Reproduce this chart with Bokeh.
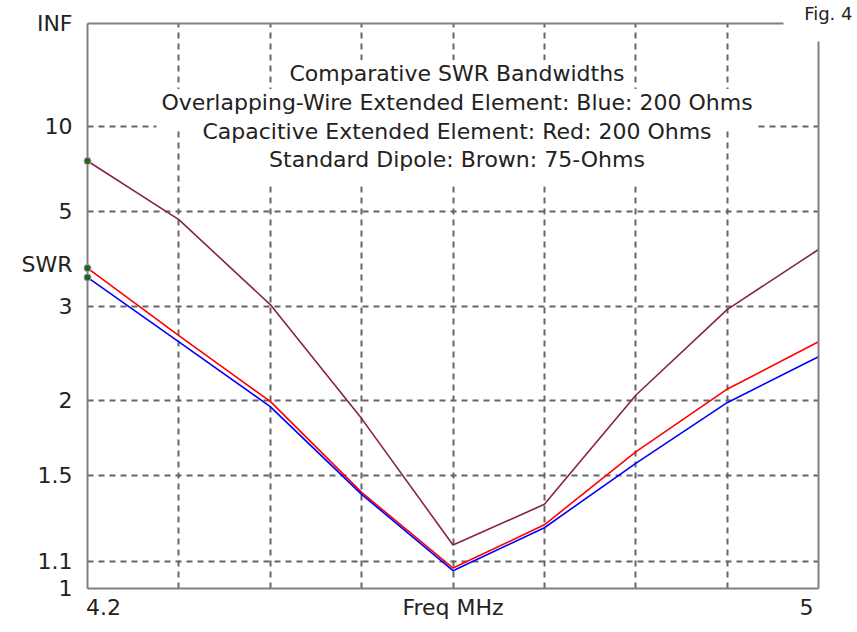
from bokeh.plotting import figure
from bokeh.models import Range1d, FixedTicker, LinearAxis, Label
from bokeh.embed import file_html
from bokeh.resources import INLINE

# ---------------- data ----------------
freq_mhz = [4.2, 4.3, 4.4, 4.5, 4.6, 4.7, 4.8, 4.9, 5.0]
swr_blue = [3.45, 2.55, 1.95, 1.40, 1.065, 1.241, 1.569, 1.98, 2.39]
swr_red = [3.62, 2.62, 1.99, 1.41, 1.075, 1.254, 1.638, 2.09, 2.55]
swr_brown = [7.22, 4.76, 3.02, 1.86, 1.167, 1.35, 2.04, 2.95, 4.00]

swr_tick_values = [1.0, 1.1, 1.5, 2.0, 3.0, 5.0, 10.0, float("inf")]
swr_tick_labels = ["1", "1.1", "1.5", "2", "3", "5", "10", "INF"]
swr_axis_title = "SWR"
swr_axis_title_value = 3.69

freq_grid_values = [4.3, 4.4, 4.5, 4.6, 4.7, 4.8, 4.9]
freq_tick_labels = ["4.2", "Freq MHz", "5"]
freq_tick_values = [4.2, 4.6, 5.0]
freq_label_nudge = [0.0175, 0.0, -0.013]

title_lines = [
    "Comparative SWR Bandwidths",
    "Overlapping-Wire Extended Element: Blue: 200 Ohms",
    "Capacitive Extended Element: Red: 200 Ohms",
    "Standard Dipole: Brown: 75-Ohms",
]
fig_label = "Fig. 4"

FONT = "DejaVu Sans"
FS = "22px"
TXT = "#222222"
FRAME = "#808080"

# frame gap left open for the "Fig. 4" tag (top line end, right line start)
TOP_LINE_END = 4.9617
RIGHT_LINE_END = 0.9688


def rho(s):
    """EZNEC style SWR scale: reflection coefficient."""
    if s == float("inf"):
        return 1.0
    return (s - 1.0) / (s + 1.0)


p = figure(
    width=857, height=632,
    x_range=Range1d(4.2, 5.0), y_range=Range1d(0.0, 1.0),
    output_backend="svg", toolbar_location=None,
    min_border_left=87, min_border_right=39,
    min_border_top=22, min_border_bottom=44,
)
p.outline_line_color = None
p.background_fill_color = "white"
p.border_fill_color = "white"

# "Fig. 4" tag as plot title, pushed right past the frame edge
p.title.text = fig_label
p.title.align = "right"
p.title.offset = -34
p.title.standoff = 0
p.title.text_font = FONT
p.title.text_font_size = "18px"
p.title.text_font_style = "normal"
p.title.text_color = TXT

# ---- y axis (left) ----
y_pos = [rho(v) for v in swr_tick_values]
title_pos = rho(swr_axis_title_value)
p.yaxis.ticker = FixedTicker(ticks=y_pos + [title_pos])
ov = {pos: lab for pos, lab in zip(y_pos, swr_tick_labels)}
ov[title_pos] = swr_axis_title
p.yaxis.major_label_overrides = ov
# ---- x axis (below) ----
x_pos = [v + n for v, n in zip(freq_tick_values, freq_label_nudge)]
p.xaxis.ticker = FixedTicker(ticks=x_pos)
p.xaxis.major_label_overrides = {pos: lab for pos, lab in zip(x_pos, freq_tick_labels)}

for ax in (p.xaxis[0], p.yaxis[0]):
    ax.major_tick_out = 0
    ax.major_tick_in = 0
    ax.minor_tick_out = 0
    ax.minor_tick_in = 0
    ax.axis_line_color = FRAME
    ax.axis_line_width = 2
    ax.major_label_text_font = FONT
    ax.major_label_text_font_size = FS
    ax.major_label_text_color = TXT
p.yaxis.major_label_standoff = 15
p.xaxis.major_label_standoff = 6

# frame lines on top and right (open corner)
top_ax = LinearAxis(ticker=FixedTicker(ticks=[]), major_label_text_font_size="0px",
                    major_label_standoff=0, axis_label_standoff=0,
                    major_tick_out=0, major_tick_in=0, minor_tick_out=0, minor_tick_in=0,
                    axis_line_color=FRAME, axis_line_width=2,
                    bounds=(4.2, TOP_LINE_END))
p.add_layout(top_ax, "above")
right_ax = LinearAxis(ticker=FixedTicker(ticks=[]), major_label_text_font_size="0px",
                      major_label_standoff=0, axis_label_standoff=0,
                      major_tick_out=0, major_tick_in=0, minor_tick_out=0, minor_tick_in=0,
                      axis_line_color=FRAME, axis_line_width=2,
                      bounds=(0.0, RIGHT_LINE_END))
p.add_layout(right_ax, "right")

# ---- grid ----
p.xgrid.ticker = FixedTicker(ticks=freq_grid_values)
p.ygrid.ticker = FixedTicker(ticks=[rho(v) for v in swr_tick_values[1:-1]])
for g in (p.xgrid[0], p.ygrid[0]):
    g.grid_line_color = "#666666"
    g.grid_line_width = 2
    g.grid_line_dash = "6 5"

# ---- series ----
series = [(swr_brown, "#8a2050"), (swr_red, "#ff0000"), (swr_blue, "#0000ff")]
for vals, col in series:
    p.line(freq_mhz, [rho(v) for v in vals], line_color=col, line_width=1.6)
p.scatter([freq_mhz[0]] * 3, [rho(s[0]) for s, _ in series], marker="circle", size=7,
          fill_color="#007a00", line_color="#e070e0", line_width=1, level="overlay")

# ---- title lines ----
for i, line in enumerate(title_lines):
    p.add_layout(Label(x=4.6, y=1.0, x_offset=4, y_offset=-(56.7 + 28.7 * i),
                       text=line, text_align="center", text_baseline="alphabetic",
                       text_font=FONT, text_font_size=FS, text_color=TXT,
                       background_fill_color="white",
                       padding=dict(left=5, right=5, top=1, bottom=14)))

open("out.html", "w").write(file_html(p, INLINE))
